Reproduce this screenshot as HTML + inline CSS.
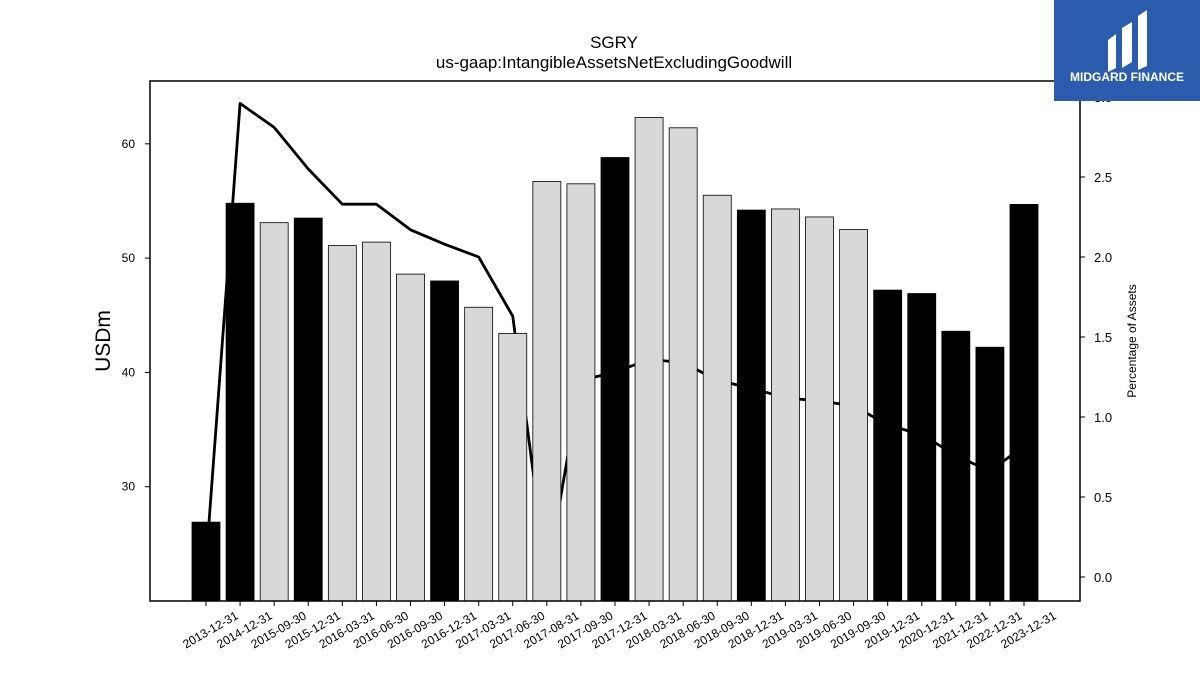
<!DOCTYPE html>
<html><head><meta charset="utf-8"><style>
body{margin:0;background:#fff;width:1200px;height:675px;overflow:hidden;font-family:"Liberation Sans",sans-serif}
</style></head><body>
<svg id="chart" width="1200" height="675" xmlns="http://www.w3.org/2000/svg" font-family="Liberation Sans, sans-serif">
<text x="614" y="48" font-size="17" text-anchor="middle">SGRY</text>
<text x="614" y="68" font-size="17" text-anchor="middle">us-gaap:IntangibleAssetsNetExcludingGoodwill</text>
<g id="bars"></g>
<g id="line"></g>
<g id="axes"></g>
<text transform="translate(110,341) rotate(-90)" font-size="21" text-anchor="middle">USDm</text>
<text transform="translate(1136,341) rotate(-90)" font-size="12" text-anchor="middle">Percentage of Assets</text>
<g>
<rect x="1054" y="0" width="146" height="101" fill="#2b5cad"/>
<path d="M1108 40 L1116 34 L1116 68 L1108 72 Z M1122 28 L1132 22 L1132 62 L1122 68 Z M1138 16 L1147 10 L1147 66 L1138 70 Z" fill="#fff"/>
<text x="1127" y="81" font-size="12" font-weight="bold" fill="#fff" text-anchor="middle">MIDGARD FINANCE</text>
</g>
</svg>
<script>
const categories=["2013-12-31","2014-12-31","2015-09-30","2015-12-31","2016-03-31","2016-06-30","2016-09-30","2016-12-31","2017-03-31","2017-06-30","2017-08-31","2017-09-30","2017-12-31","2018-03-31","2018-06-30","2018-09-30","2018-12-31","2019-03-31","2019-06-30","2019-09-30","2019-12-31","2020-12-31","2021-12-31","2022-12-31","2023-12-31"];
const barValues=[26.9,54.8,53.1,53.5,51.1,51.4,48.6,48.0,45.7,43.4,56.7,56.5,58.8,62.3,61.4,55.5,54.2,54.3,53.6,52.5,47.2,46.9,43.6,42.2,54.7];
const annual=[1,1,0,1,0,0,0,1,0,0,0,0,1,0,0,0,1,0,0,0,1,1,1,1,1];
const pctValues=[0.09,2.96,2.81,2.55,2.33,2.33,2.17,2.08,2.00,1.63,0.0,1.23,1.28,1.36,1.34,1.23,1.18,1.12,1.10,1.07,0.95,0.89,0.76,0.66,0.82];
const leftTicks=[30,40,50,60];
const rightTicks=[0.0,0.5,1.0,1.5,2.0,2.5,3.0];
const NS="http://www.w3.org/2000/svg";
const L=150,R=1080,T=81,B=601;
const x=i=>206+i*(1024-206)/(categories.length-1);
const yL=v=>B-(v-20)*11.43;
const yR=v=>577-v*160;
function mk(tag,attrs,parent){const e=document.createElementNS(NS,tag);for(const k in attrs)e.setAttribute(k,attrs[k]);parent.appendChild(e);return e;}
const line=document.getElementById('line');
let d='';pctValues.forEach((v,i)=>{d+=(i?'L':'M')+x(i)+' '+yR(v)+' ';});
const p=mk('path',{d:d,fill:'none',stroke:'#000','stroke-width':2.8,'stroke-linejoin':'round'},line);


const bars=document.getElementById('bars');
barValues.forEach((v,i)=>{
 const r=mk('rect',{x:x(i)-14,y:yL(v),width:28,height:B-yL(v),fill:annual[i]?'#000':'#d8d8d8',stroke:'#000','stroke-width':0.8},bars);
 
 
});
// bars drawn over line
document.getElementById('chart').insertBefore(bars,line.nextSibling);
const axes=document.getElementById('axes');
const frame=mk('rect',{x:L,y:T,width:R-L,height:B-T,fill:'none',stroke:'#000','stroke-width':1.5},axes);


leftTicks.forEach(v=>{
 mk('line',{x1:L-5,x2:L,y1:yL(v),y2:yL(v),stroke:'#000'},axes);
 const t=mk('text',{x:L-15,y:yL(v)+4,'font-size':12,'text-anchor':'end'},axes);t.textContent=v;
 
 
});
rightTicks.forEach(v=>{
 mk('line',{x1:R,x2:R+5,y1:yR(v),y2:yR(v),stroke:'#000'},axes);
 const t=mk('text',{x:R+14,y:yR(v)+5,'font-size':13},axes);t.textContent=v.toFixed(1);
 
 
});
categories.forEach((c,i)=>{
 mk('line',{x1:x(i),x2:x(i),y1:B,y2:B+5,stroke:'#000'},axes);
 const t=mk('text',{transform:`translate(${x(i)+33},${B+17}) rotate(-30)`,'font-size':12,'text-anchor':'end'},axes);t.textContent=c;
 
 
});
</script>
</body></html>
